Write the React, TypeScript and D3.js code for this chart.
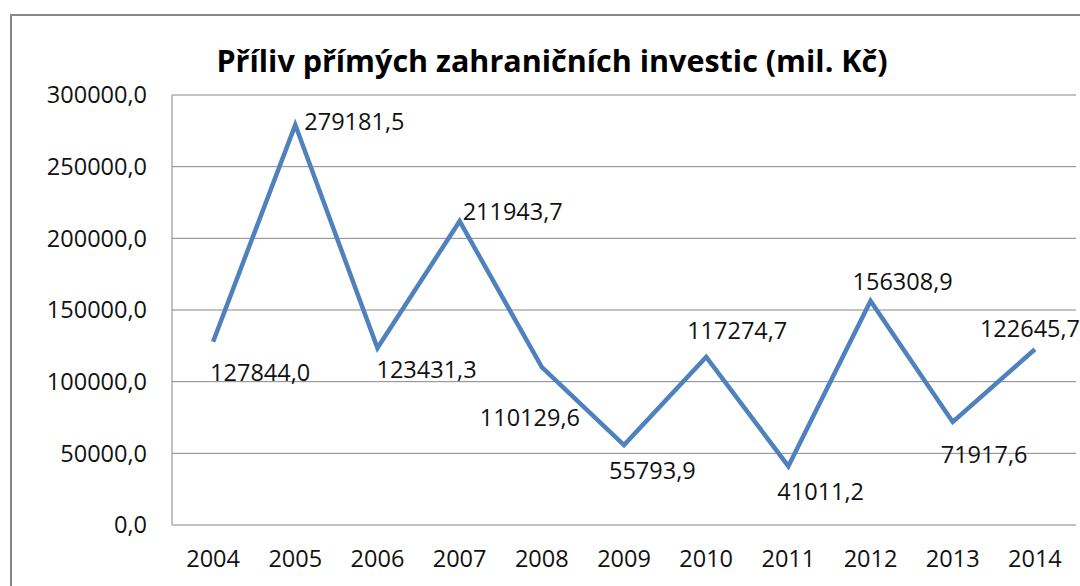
import React from "react";
import * as d3 from "d3";

const years = ["2004","2005","2006","2007","2008","2009","2010","2011","2012","2013","2014"];
const values = [127844.0, 279181.5, 123431.3, 211943.7, 110129.6, 55793.9, 117274.7, 41011.2, 156308.9, 71917.6, 122645.7];
const yTicks = [0, 50000, 100000, 150000, 200000, 250000, 300000];
const title = "Příliv přímých zahraničních investic (mil. Kč)";
// label offsets (layout only): dx from point to label start, dy to label center
const labelDx = [-3, 9, -1, 3, -62, -15, -19, -11, -18, -12, -55];
const labelDy = [31, -3, 21, -10, 50, 26, -26, 25, -19, 33, -21];

const W = 1080, H = 586;
const plotL = 172, plotR = 1076, plotT = 95, plotB = 525;
const FONT = "'Open Sans', sans-serif";
const FS = 23.5;

const fmt = (v: number) => v.toFixed(1).replace(".", ",");

export default function App() {
  const x = d3.scaleBand<string>().domain(years).range([plotL, plotR]);
  const y = d3.scaleLinear().domain([0, 300000]).range([plotB, plotT]);
  const cx = (d: string) => (x(d) as number) + x.bandwidth() / 2;
  const line = d3.line<number>().x((_, i) => cx(years[i])).y((v) => y(v));
  return (
    <svg width={W} height={H} style={{ position: "absolute", left: 0, top: 0, background: "#fff" }}>
      <rect x={11} y={15} width={1200} height={700} fill="#fff" stroke="#888" strokeWidth={2} />
      <text x={552} y={72} textAnchor="middle" fontFamily={FONT} fontWeight="bold" fontSize={30.5} fill="#000">{title}</text>
      {yTicks.map((t) => (
        <g key={t}>
          <line x1={plotL} x2={plotR} y1={y(t)} y2={y(t)} stroke="#868686" strokeWidth={1} />
          <text x={147} y={y(t)} dy="0.36em" textAnchor="end" fontFamily={FONT} fontSize={FS} fill="#111">{fmt(t)}</text>
        </g>
      ))}
      <line x1={plotL} x2={plotL} y1={plotT} y2={plotB} stroke="#868686" strokeWidth={1} />
      {years.map((yr) => (
        <text key={yr} x={cx(yr)} y={559} dy="0.36em" textAnchor="middle" fontFamily={FONT} fontSize={FS} fill="#111">{yr}</text>
      ))}
      <path d={line(values) || ""} fill="none" stroke="#4F81BD" strokeWidth={4.5} strokeLinejoin="miter" />
      {values.map((v, i) => (
        <text key={i} x={cx(years[i]) + labelDx[i]} y={y(v) + labelDy[i]} dy="0.36em" fontFamily={FONT} fontSize={FS} fill="#111">{fmt(v)}</text>
      ))}
    </svg>
  );
}
